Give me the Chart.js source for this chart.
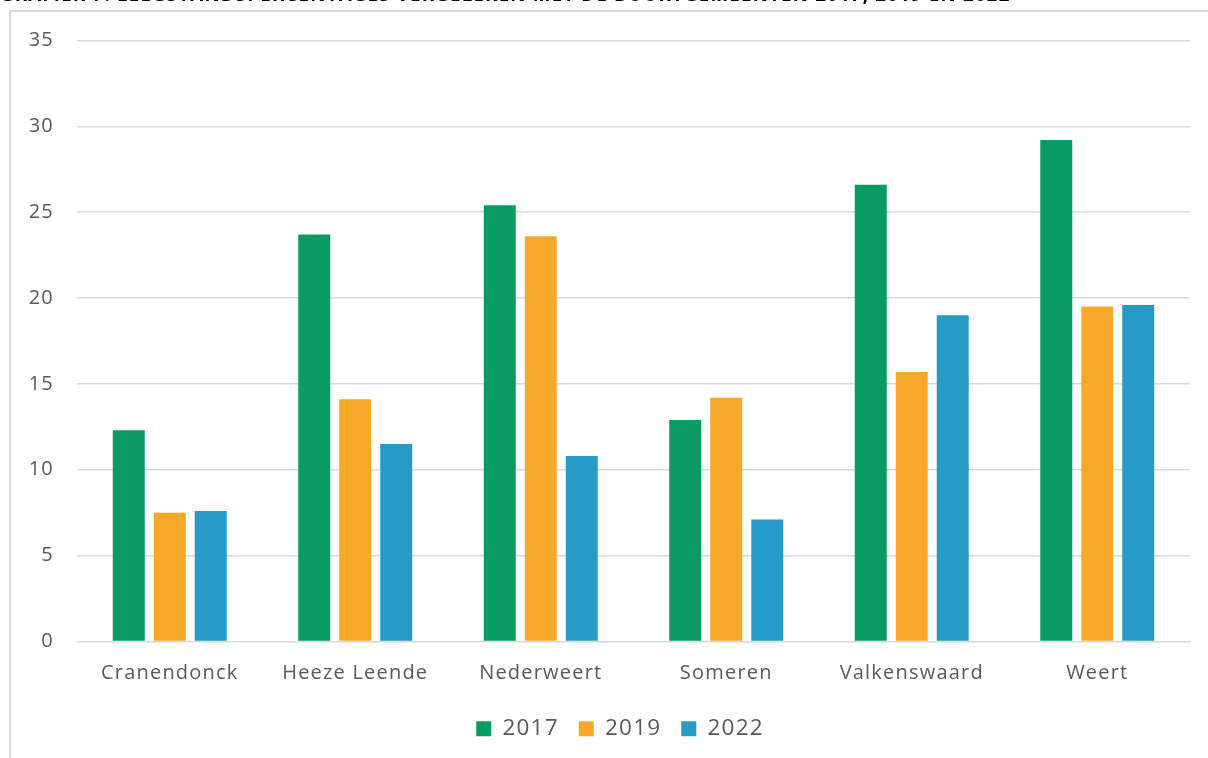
<!DOCTYPE html>
<html>
<head>
<meta charset="utf-8">
<script src="https://cdn.jsdelivr.net/npm/chart.js@4.4.1/dist/chart.umd.min.js"></script>
<style>
  html, body { margin: 0; padding: 0; width: 1208px; height: 758px; overflow: hidden; background: #fff; }
  #frame { position: absolute; left: 9px; top: 10px; width: 1220px; height: 780px; border: 2px solid #d9d9d9; box-sizing: border-box; }
  #wrap { position: absolute; left: 0; top: -16px; width: 1208px; height: 774px; }
</style>
</head>
<body>
<div id="frame"></div>
<div id="wrap"><canvas id="c"></canvas></div>
<script>
const titleText = "GRAFIEK 7: LEEGSTANDSPERCENTAGES VERGELEKEN MET DE BUURTGEMEENTEN 2017, 2019 EN 2022";
const categories = ["Cranendonck", "Heeze Leende", "Nederweert", "Someren", "Valkenswaard", "Weert"];
const seriesNames = ["2017", "2019", "2022"];
const values2017 = [12.3, 23.7, 25.4, 12.9, 26.6, 29.2];
const values2019 = [7.5, 14.1, 23.6, 14.2, 15.7, 19.5];
const values2022 = [7.6, 11.5, 10.8, 7.1, 19.0, 19.6];
const colors = ["#089c62", "#f7a829", "#279bc8"];
const fontFam = "'Open Sans', 'DejaVu Sans', sans-serif";

const spacingPlugin = {
  id: 'spacing',
  beforeUpdate(chart) { chart.ctx.letterSpacing = '1.2px'; },
  beforeLayout(chart) { chart.ctx.letterSpacing = '1.2px'; },
  afterLayout(chart) {
    if (chart.legend) { chart.legend.left += 25; chart.legend.right += 25; }
  },
  beforeDraw(chart) { chart.ctx.letterSpacing = '1.2px'; }
};

const seriesValues = [values2017, values2019, values2022];
new Chart(document.getElementById('c'), {
  type: 'bar',
  plugins: [spacingPlugin],
  data: {
    labels: categories,
    datasets: seriesNames.map((n, i) => ({
      label: n,
      data: seriesValues[i],
      backgroundColor: colors[i],
      borderWidth: 0,
      categoryPercentage: 0.663,
      barPercentage: 0.78
    }))
  },
  options: {
    responsive: true,
    maintainAspectRatio: false,
    animation: false,
    layout: { padding: { left: 0, right: 18, top: 0, bottom: 8 } },
    plugins: {
      title: {
        display: true,
        text: titleText,
        align: 'start',
        color: '#000',
        font: { family: fontFam, size: 18.7, weight: 'bold' },
        padding: { top: 0, bottom: 34 }
      },
      legend: {
        position: 'bottom',
        labels: {
          boxWidth: 15, boxHeight: 15, padding: 20,
          color: '#595959',
          font: { family: fontFam, size: 22.5 }
        }
      },
      tooltip: { enabled: false }
    },
    scales: {
      x: {
        grid: { display: false },
        border: { display: true, color: '#d9d9d9', width: 1 },
        ticks: { color: '#595959', font: { family: fontFam, size: 20 }, padding: 12 }
      },
      y: {
        min: 0, max: 35,
        afterFit(scale) { scale.width = 77; },
        grid: { color: '#d9d9d9', lineWidth: 1.5, drawTicks: false },
        border: { display: false },
        ticks: { stepSize: 5, color: '#595959', font: { family: fontFam, size: 20 }, padding: 23 }
      }
    }
  }
});
</script>
</body>
</html>
